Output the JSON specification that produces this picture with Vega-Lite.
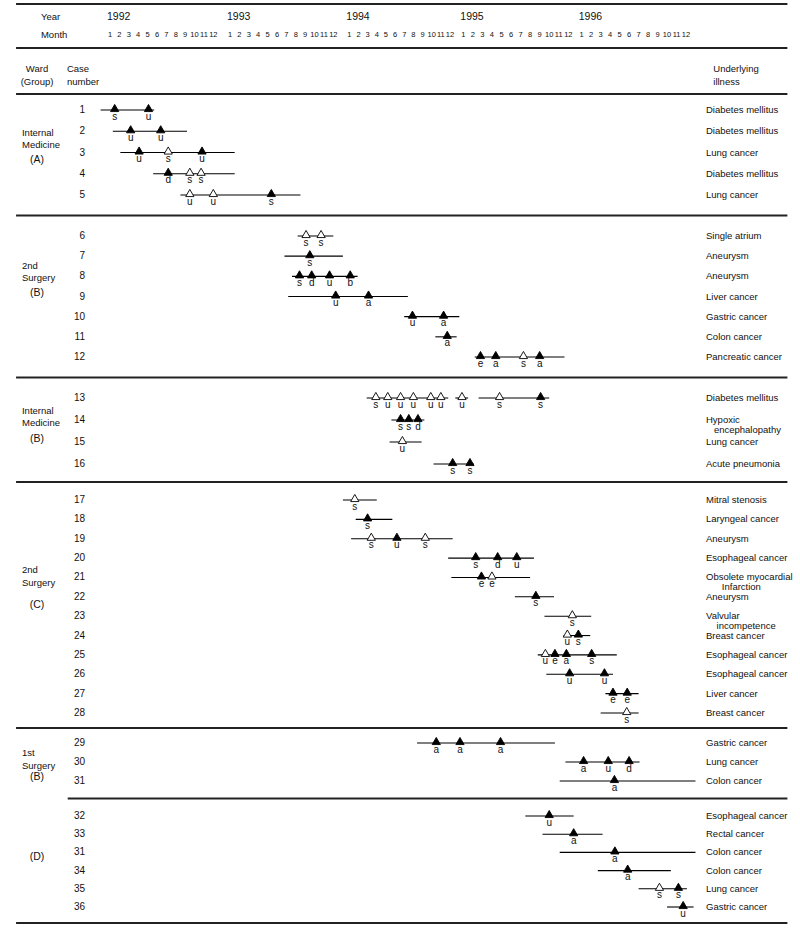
{
  "$schema": "https://vega.github.io/schema/vega-lite/v6.json",
  "width": 800,
  "height": 937,
  "padding": 0,
  "autosize": {"type": "fit", "contains": "padding"},
  "background": "white",
  "config": {"view": {"stroke": null}, "text": {"font": "Liberation Sans", "color": "#111"}},
  "datasets": {
    "cases": [
      {"row": 1, "case": "1", "illness": "Diabetes mellitus"},
      {"row": 2, "case": "2", "illness": "Diabetes mellitus"},
      {"row": 3, "case": "3", "illness": "Lung cancer"},
      {"row": 4, "case": "4", "illness": "Diabetes mellitus"},
      {"row": 5, "case": "5", "illness": "Lung cancer"},
      {"row": 6, "case": "6", "illness": "Single atrium"},
      {"row": 7, "case": "7", "illness": "Aneurysm"},
      {"row": 8, "case": "8", "illness": "Aneurysm"},
      {"row": 9, "case": "9", "illness": "Liver cancer"},
      {"row": 10, "case": "10", "illness": "Gastric cancer"},
      {"row": 11, "case": "11", "illness": "Colon cancer"},
      {"row": 12, "case": "12", "illness": "Pancreatic cancer"},
      {"row": 13, "case": "13", "illness": "Diabetes mellitus"},
      {"row": 14, "case": "14", "illness": "Hypoxic\n\u200b\u00a0\u00a0\u00a0encephalopathy"},
      {"row": 15, "case": "15", "illness": "Lung cancer"},
      {"row": 16, "case": "16", "illness": "Acute pneumonia"},
      {"row": 17, "case": "17", "illness": "Mitral stenosis"},
      {"row": 18, "case": "18", "illness": "Laryngeal cancer"},
      {"row": 19, "case": "19", "illness": "Aneurysm"},
      {"row": 20, "case": "20", "illness": "Esophageal cancer"},
      {"row": 21, "case": "21", "illness": "Obsolete myocardial\n\u200b\u00a0\u00a0\u00a0\u00a0\u00a0\u00a0Infarction"},
      {"row": 22, "case": "22", "illness": "Aneurysm"},
      {"row": 23, "case": "23", "illness": "Valvular\n\u200b\u00a0\u00a0\u00a0\u00a0incompetence"},
      {"row": 24, "case": "24", "illness": "Breast cancer"},
      {"row": 25, "case": "25", "illness": "Esophageal cancer"},
      {"row": 26, "case": "26", "illness": "Esophageal cancer"},
      {"row": 27, "case": "27", "illness": "Liver cancer"},
      {"row": 28, "case": "28", "illness": "Breast cancer"},
      {"row": 29, "case": "29", "illness": "Gastric cancer"},
      {"row": 30, "case": "30", "illness": "Lung cancer"},
      {"row": 31, "case": "31", "illness": "Colon cancer"},
      {"row": 32, "case": "32", "illness": "Esophageal cancer"},
      {"row": 33, "case": "33", "illness": "Rectal cancer"},
      {"row": 34, "case": "31", "illness": "Colon cancer"},
      {"row": 35, "case": "34", "illness": "Colon cancer"},
      {"row": 36, "case": "35", "illness": "Lung cancer"},
      {"row": 37, "case": "36", "illness": "Gastric cancer"}
    ],
    "segments": [
      {"row": 1, "start": -1.0, "end": 4.7},
      {"row": 2, "start": 0.3, "end": 8.2},
      {"row": 3, "start": 1.1, "end": 12.5},
      {"row": 4, "start": 4.6, "end": 12.5},
      {"row": 5, "start": 7.5, "end": 19.5},
      {"row": 6, "start": 19.2, "end": 23.0},
      {"row": 7, "start": 17.8, "end": 23.6},
      {"row": 8, "start": 18.6, "end": 24.9},
      {"row": 9, "start": 18.2, "end": 30.4},
      {"row": 10, "start": 30.0, "end": 35.7},
      {"row": 11, "start": 33.4, "end": 35.5},
      {"row": 12, "start": 37.2, "end": 46.6},
      {"row": 13, "start": 25.9, "end": 34.8},
      {"row": 13, "start": 35.4, "end": 36.5},
      {"row": 13, "start": 37.6, "end": 45.0},
      {"row": 14, "start": 28.6, "end": 32.2},
      {"row": 15, "start": 28.4, "end": 31.9},
      {"row": 16, "start": 33.2, "end": 37.1},
      {"row": 17, "start": 23.6, "end": 27.0},
      {"row": 18, "start": 24.7, "end": 28.7},
      {"row": 19, "start": 24.2, "end": 35.2},
      {"row": 20, "start": 34.8, "end": 43.4},
      {"row": 21, "start": 35.1, "end": 43.0},
      {"row": 22, "start": 41.4, "end": 45.5},
      {"row": 23, "start": 44.5, "end": 49.0},
      {"row": 24, "start": 46.5, "end": 48.9},
      {"row": 25, "start": 43.8, "end": 51.7},
      {"row": 26, "start": 44.7, "end": 51.3},
      {"row": 27, "start": 50.5, "end": 54.0},
      {"row": 28, "start": 50.0, "end": 54.0},
      {"row": 29, "start": 31.4, "end": 45.6},
      {"row": 30, "start": 46.7, "end": 54.1},
      {"row": 31, "start": 46.1, "end": 60.0},
      {"row": 32, "start": 42.5, "end": 47.4},
      {"row": 33, "start": 44.3, "end": 50.2},
      {"row": 34, "start": 46.1, "end": 60.0},
      {"row": 35, "start": 49.7, "end": 57.4},
      {"row": 36, "start": 54.0, "end": 59.1},
      {"row": 37, "start": 57.0, "end": 59.8}
    ],
    "events": [
      {"row": 1, "t": 0.5, "kind": "filled", "code": "s"},
      {"row": 1, "t": 4.1, "kind": "filled", "code": "u"},
      {"row": 2, "t": 2.2, "kind": "filled", "code": "u"},
      {"row": 2, "t": 5.4, "kind": "filled", "code": "u"},
      {"row": 3, "t": 3.1, "kind": "filled", "code": "u"},
      {"row": 3, "t": 6.2, "kind": "open", "code": "s"},
      {"row": 3, "t": 9.8, "kind": "filled", "code": "u"},
      {"row": 4, "t": 6.2, "kind": "filled", "code": "d"},
      {"row": 4, "t": 8.5, "kind": "open", "code": "s"},
      {"row": 4, "t": 9.7, "kind": "open", "code": "s"},
      {"row": 5, "t": 8.5, "kind": "open", "code": "u"},
      {"row": 5, "t": 11.0, "kind": "open", "code": "u"},
      {"row": 5, "t": 16.4, "kind": "filled", "code": "s"},
      {"row": 6, "t": 20.1, "kind": "open", "code": "s"},
      {"row": 6, "t": 21.7, "kind": "open", "code": "s"},
      {"row": 7, "t": 20.5, "kind": "filled", "code": "s"},
      {"row": 8, "t": 19.4, "kind": "filled", "code": "s"},
      {"row": 8, "t": 20.7, "kind": "filled", "code": "d"},
      {"row": 8, "t": 22.6, "kind": "filled", "code": "u"},
      {"row": 8, "t": 24.1, "kind": "filled", "code": "b"},
      {"row": 9, "t": 23.15, "kind": "filled", "code": "u"},
      {"row": 9, "t": 26.1, "kind": "filled", "code": "a"},
      {"row": 10, "t": 30.9, "kind": "filled", "code": "u"},
      {"row": 10, "t": 34.3, "kind": "filled", "code": "a"},
      {"row": 11, "t": 34.7, "kind": "filled", "code": "a"},
      {"row": 12, "t": 37.8, "kind": "filled", "code": "e"},
      {"row": 12, "t": 39.4, "kind": "filled", "code": "a"},
      {"row": 12, "t": 42.3, "kind": "open", "code": "s"},
      {"row": 12, "t": 44.0, "kind": "filled", "code": "a"},
      {"row": 13, "t": 26.9, "kind": "open", "code": "s"},
      {"row": 13, "t": 28.2, "kind": "open", "code": "u"},
      {"row": 13, "t": 29.6, "kind": "open", "code": "u"},
      {"row": 13, "t": 31.0, "kind": "open", "code": "u"},
      {"row": 13, "t": 32.9, "kind": "open", "code": "u"},
      {"row": 13, "t": 34.0, "kind": "open", "code": "u"},
      {"row": 13, "t": 35.9, "kind": "open", "code": "u"},
      {"row": 13, "t": 39.8, "kind": "open", "code": "s"},
      {"row": 13, "t": 44.1, "kind": "filled", "code": "s"},
      {"row": 14, "t": 29.6, "kind": "filled", "code": "s"},
      {"row": 14, "t": 30.5, "kind": "filled", "code": "s"},
      {"row": 14, "t": 31.5, "kind": "filled", "code": "d"},
      {"row": 15, "t": 29.8, "kind": "open", "code": "u"},
      {"row": 16, "t": 35.2, "kind": "filled", "code": "s"},
      {"row": 16, "t": 36.7, "kind": "filled", "code": "s"},
      {"row": 17, "t": 24.6, "kind": "open", "code": "s"},
      {"row": 18, "t": 26.0, "kind": "filled", "code": "s"},
      {"row": 19, "t": 26.4, "kind": "open", "code": "s"},
      {"row": 19, "t": 29.2, "kind": "filled", "code": "u"},
      {"row": 19, "t": 32.3, "kind": "open", "code": "s"},
      {"row": 20, "t": 37.3, "kind": "filled", "code": "s"},
      {"row": 20, "t": 39.6, "kind": "filled", "code": "d"},
      {"row": 20, "t": 41.6, "kind": "filled", "code": "u"},
      {"row": 21, "t": 37.9, "kind": "filled", "code": "e"},
      {"row": 21, "t": 39.0, "kind": "open", "code": "e"},
      {"row": 22, "t": 43.6, "kind": "filled", "code": "s"},
      {"row": 23, "t": 47.3, "kind": "open", "code": "s"},
      {"row": 24, "t": 46.9, "kind": "open", "code": "u"},
      {"row": 24, "t": 47.75, "kind": "filled", "code": "s"},
      {"row": 25, "t": 44.6, "kind": "open", "code": "u"},
      {"row": 25, "t": 45.6, "kind": "filled", "code": "e"},
      {"row": 25, "t": 46.8, "kind": "filled", "code": "a"},
      {"row": 25, "t": 49.05, "kind": "filled", "code": "s"},
      {"row": 26, "t": 47.1, "kind": "filled", "code": "u"},
      {"row": 26, "t": 50.4, "kind": "filled", "code": "u"},
      {"row": 27, "t": 51.3, "kind": "filled", "code": "e"},
      {"row": 27, "t": 52.8, "kind": "filled", "code": "e"},
      {"row": 28, "t": 52.75, "kind": "open", "code": "s"},
      {"row": 29, "t": 33.5, "kind": "filled", "code": "a"},
      {"row": 29, "t": 35.75, "kind": "filled", "code": "a"},
      {"row": 29, "t": 39.9, "kind": "filled", "code": "a"},
      {"row": 30, "t": 48.2, "kind": "filled", "code": "a"},
      {"row": 30, "t": 50.8, "kind": "filled", "code": "u"},
      {"row": 30, "t": 53.0, "kind": "filled", "code": "d"},
      {"row": 31, "t": 51.45, "kind": "filled", "code": "a"},
      {"row": 32, "t": 45.0, "kind": "filled", "code": "u"},
      {"row": 33, "t": 47.4, "kind": "filled", "code": "a"},
      {"row": 34, "t": 51.5, "kind": "filled", "code": "a"},
      {"row": 35, "t": 52.85, "kind": "filled", "code": "a"},
      {"row": 36, "t": 56.2, "kind": "open", "code": "s"},
      {"row": 36, "t": 58.2, "kind": "filled", "code": "s"},
      {"row": 37, "t": 58.7, "kind": "filled", "code": "u"}
    ],
    "wards": [
      {"name": "Internal\nMedicine", "name_row": 2.08, "grp": "(A)", "grp_row": 3.35},
      {"name": "2nd\nSurgery", "name_row": 7.47, "grp": "(B)", "grp_row": 8.84},
      {"name": "Internal\nMedicine", "name_row": 13.57, "grp": "(B)", "grp_row": 14.88},
      {"name": "2nd\nSurgery", "name_row": 20.62, "grp": "(C)", "grp_row": 22.41},
      {"name": "1st\nSurgery", "name_row": 29.53, "grp": "(B)", "grp_row": 30.79},
      {"name": "", "name_row": 34.25, "grp": "(D)", "grp_row": 34.25}
    ],
    "dividers": [{"row": -4}, {"row": -1.5}, {"row": 0}, {"row": 5.5}, {"row": 12.5}, {"row": 16.5}, {"row": 28.5}, {"row": 38}],
    "subdividers": [{"row": 31.5}],
    "years": [
      {"year": "1992", "t": 0}, {"year": "1993", "t": 12}, {"year": "1994", "t": 24}, {"year": "1995", "t": 36}, {"year": "1996", "t": 48}
    ],
    "months": [
      {"t": 0, "m": "1"}, {"t": 1, "m": "2"}, {"t": 2, "m": "3"}, {"t": 3, "m": "4"}, {"t": 4, "m": "5"}, {"t": 5, "m": "6"},
      {"t": 6, "m": "7"}, {"t": 7, "m": "8"}, {"t": 8, "m": "9"}, {"t": 9, "m": "10"}, {"t": 10, "m": "11"}, {"t": 11, "m": "12"},
      {"t": 12, "m": "1"}, {"t": 13, "m": "2"}, {"t": 14, "m": "3"}, {"t": 15, "m": "4"}, {"t": 16, "m": "5"}, {"t": 17, "m": "6"},
      {"t": 18, "m": "7"}, {"t": 19, "m": "8"}, {"t": 20, "m": "9"}, {"t": 21, "m": "10"}, {"t": 22, "m": "11"}, {"t": 23, "m": "12"},
      {"t": 24, "m": "1"}, {"t": 25, "m": "2"}, {"t": 26, "m": "3"}, {"t": 27, "m": "4"}, {"t": 28, "m": "5"}, {"t": 29, "m": "6"},
      {"t": 30, "m": "7"}, {"t": 31, "m": "8"}, {"t": 32, "m": "9"}, {"t": 33, "m": "10"}, {"t": 34, "m": "11"}, {"t": 35, "m": "12"},
      {"t": 36, "m": "1"}, {"t": 37, "m": "2"}, {"t": 38, "m": "3"}, {"t": 39, "m": "4"}, {"t": 40, "m": "5"}, {"t": 41, "m": "6"},
      {"t": 42, "m": "7"}, {"t": 43, "m": "8"}, {"t": 44, "m": "9"}, {"t": 45, "m": "10"}, {"t": 46, "m": "11"}, {"t": 47, "m": "12"},
      {"t": 48, "m": "1"}, {"t": 49, "m": "2"}, {"t": 50, "m": "3"}, {"t": 51, "m": "4"}, {"t": 52, "m": "5"}, {"t": 53, "m": "6"},
      {"t": 54, "m": "7"}, {"t": 55, "m": "8"}, {"t": 56, "m": "9"}, {"t": 57, "m": "10"}, {"t": 58, "m": "11"}, {"t": 59, "m": "12"}
    ],
    "rowHeads": [{"label": "Year", "row": -3}, {"label": "Month", "row": -2}],
    "colHeadWard": [{"label": "Ward\n(Group)"}],
    "colHeadCase": [{"label": "Case\nnumber"}],
    "colHeadIll": [{"label": "Underlying\nillness"}]
  },
  "layer": [
    {
      "data": {"name": "dividers"},
      "mark": {"type": "rule", "color": "#222", "strokeWidth": 1.8},
      "encoding": {
        "y": {"field": "row", "type": "quantitative", "axis": null,
              "scale": {"domain": [-4.5, -4, -3, -2, -1.5, -1, 0, 1, 5, 6, 12, 13, 16, 17, 28, 29, 31, 32, 37, 38, 39], "range": [0, 4, 17, 35, 48, 68.5, 94, 110, 195, 236, 357, 398, 464, 500, 713, 743, 781, 816, 907, 923, 937], "zero": false, "nice": false}},
        "x": {"datum": -10.0, "type": "quantitative", "axis": null,
              "scale": {"domain": [-11.71, 0, 11, 12, 23, 24, 35, 36, 47, 48, 59, 71.03], "range": [0, 110, 213.3, 230, 333.3, 349.3, 450, 463.3, 568.3, 581.7, 686, 800], "zero": false, "nice": false}},
        "x2": {"datum": 69.7}
      }
    },
    {
      "data": {"name": "subdividers"},
      "mark": {"type": "rule", "color": "#222", "strokeWidth": 1.8},
      "encoding": {
        "y": {"field": "row", "type": "quantitative", "axis": null,
              "scale": {"domain": [-4.5, -4, -3, -2, -1.5, -1, 0, 1, 5, 6, 12, 13, 16, 17, 28, 29, 31, 32, 37, 38, 39], "range": [0, 4, 17, 35, 48, 68.5, 94, 110, 195, 236, 357, 398, 464, 500, 713, 743, 781, 816, 907, 923, 937], "zero": false, "nice": false}},
        "x": {"datum": -4.5, "type": "quantitative", "axis": null,
              "scale": {"domain": [-11.71, 0, 11, 12, 23, 24, 35, 36, 47, 48, 59, 71.03], "range": [0, 110, 213.3, 230, 333.3, 349.3, 450, 463.3, 568.3, 581.7, 686, 800], "zero": false, "nice": false}},
        "x2": {"datum": 69.7}
      }
    },
    {
      "data": {"name": "segments"},
      "mark": {"type": "rule", "color": "#000", "strokeWidth": 1.1},
      "encoding": {
        "y": {"field": "row", "type": "quantitative", "axis": null,
              "scale": {"domain": [-4.5, -4, -3, -2, -1.5, -1, 0, 1, 5, 6, 12, 13, 16, 17, 28, 29, 31, 32, 37, 38, 39], "range": [0, 4, 17, 35, 48, 68.5, 94, 110, 195, 236, 357, 398, 464, 500, 713, 743, 781, 816, 907, 923, 937], "zero": false, "nice": false}},
        "x": {"field": "start", "type": "quantitative", "axis": null,
              "scale": {"domain": [-11.71, 0, 11, 12, 23, 24, 35, 36, 47, 48, 59, 71.03], "range": [0, 110, 213.3, 230, 333.3, 349.3, 450, 463.3, 568.3, 581.7, 686, 800], "zero": false, "nice": false}},
        "x2": {"field": "end"}
      }
    },
    {
      "data": {"name": "events"},
      "mark": {"type": "point", "shape": "triangle-up", "size": 68, "filled": true, "stroke": "#000", "strokeWidth": 0.9, "opacity": 1, "yOffset": -2},
      "encoding": {
        "y": {"field": "row", "type": "quantitative", "axis": null,
              "scale": {"domain": [-4.5, -4, -3, -2, -1.5, -1, 0, 1, 5, 6, 12, 13, 16, 17, 28, 29, 31, 32, 37, 38, 39], "range": [0, 4, 17, 35, 48, 68.5, 94, 110, 195, 236, 357, 398, 464, 500, 713, 743, 781, 816, 907, 923, 937], "zero": false, "nice": false}},
        "x": {"field": "t", "type": "quantitative", "axis": null,
              "scale": {"domain": [-11.71, 0, 11, 12, 23, 24, 35, 36, 47, 48, 59, 71.03], "range": [0, 110, 213.3, 230, 333.3, 349.3, 450, 463.3, 568.3, 581.7, 686, 800], "zero": false, "nice": false}},
        "fill": {"field": "kind", "type": "nominal", "legend": null, "scale": {"domain": ["filled", "open"], "range": ["#000000", "#ffffff"]}}
      }
    },
    {
      "data": {"name": "events"},
      "mark": {"type": "text", "fontSize": 10, "align": "center", "baseline": "alphabetic", "dy": 9.5},
      "encoding": {
        "y": {"field": "row", "type": "quantitative", "axis": null,
              "scale": {"domain": [-4.5, -4, -3, -2, -1.5, -1, 0, 1, 5, 6, 12, 13, 16, 17, 28, 29, 31, 32, 37, 38, 39], "range": [0, 4, 17, 35, 48, 68.5, 94, 110, 195, 236, 357, 398, 464, 500, 713, 743, 781, 816, 907, 923, 937], "zero": false, "nice": false}},
        "x": {"field": "t", "type": "quantitative", "axis": null,
              "scale": {"domain": [-11.71, 0, 11, 12, 23, 24, 35, 36, 47, 48, 59, 71.03], "range": [0, 110, 213.3, 230, 333.3, 349.3, 450, 463.3, 568.3, 581.7, 686, 800], "zero": false, "nice": false}},
        "text": {"field": "code"}
      }
    },
    {
      "data": {"name": "cases"},
      "mark": {"type": "text", "fontSize": 10, "align": "right", "baseline": "middle"},
      "encoding": {
        "y": {"field": "row", "type": "quantitative", "axis": null,
              "scale": {"domain": [-4.5, -4, -3, -2, -1.5, -1, 0, 1, 5, 6, 12, 13, 16, 17, 28, 29, 31, 32, 37, 38, 39], "range": [0, 4, 17, 35, 48, 68.5, 94, 110, 195, 236, 357, 398, 464, 500, 713, 743, 781, 816, 907, 923, 937], "zero": false, "nice": false}},
        "x": {"datum": -2.66, "type": "quantitative", "axis": null,
              "scale": {"domain": [-11.71, 0, 11, 12, 23, 24, 35, 36, 47, 48, 59, 71.03], "range": [0, 110, 213.3, 230, 333.3, 349.3, 450, 463.3, 568.3, 581.7, 686, 800], "zero": false, "nice": false}},
        "text": {"field": "case"}
      }
    },
    {
      "data": {"name": "cases"},
      "mark": {"type": "text", "fontSize": 9.5, "align": "left", "baseline": "middle", "lineBreak": "\n", "lineHeight": 9.5},
      "encoding": {
        "y": {"field": "row", "type": "quantitative", "axis": null,
              "scale": {"domain": [-4.5, -4, -3, -2, -1.5, -1, 0, 1, 5, 6, 12, 13, 16, 17, 28, 29, 31, 32, 37, 38, 39], "range": [0, 4, 17, 35, 48, 68.5, 94, 110, 195, 236, 357, 398, 464, 500, 713, 743, 781, 816, 907, 923, 937], "zero": false, "nice": false}},
        "x": {"datum": 61.11, "type": "quantitative", "axis": null,
              "scale": {"domain": [-11.71, 0, 11, 12, 23, 24, 35, 36, 47, 48, 59, 71.03], "range": [0, 110, 213.3, 230, 333.3, 349.3, 450, 463.3, 568.3, 581.7, 686, 800], "zero": false, "nice": false}},
        "text": {"field": "illness"}
      }
    },
    {
      "data": {"name": "wards"},
      "mark": {"type": "text", "fontSize": 9.5, "align": "left", "baseline": "middle", "lineBreak": "\n", "lineHeight": 12.5},
      "encoding": {
        "y": {"field": "name_row", "type": "quantitative", "axis": null,
              "scale": {"domain": [-4.5, -4, -3, -2, -1.5, -1, 0, 1, 5, 6, 12, 13, 16, 17, 28, 29, 31, 32, 37, 38, 39], "range": [0, 4, 17, 35, 48, 68.5, 94, 110, 195, 236, 357, 398, 464, 500, 713, 743, 781, 816, 907, 923, 937], "zero": false, "nice": false}},
        "x": {"datum": -9.37, "type": "quantitative", "axis": null,
              "scale": {"domain": [-11.71, 0, 11, 12, 23, 24, 35, 36, 47, 48, 59, 71.03], "range": [0, 110, 213.3, 230, 333.3, 349.3, 450, 463.3, 568.3, 581.7, 686, 800], "zero": false, "nice": false}},
        "text": {"field": "name"}
      }
    },
    {
      "data": {"name": "wards"},
      "mark": {"type": "text", "fontSize": 10.5, "align": "center", "baseline": "middle"},
      "encoding": {
        "y": {"field": "grp_row", "type": "quantitative", "axis": null,
              "scale": {"domain": [-4.5, -4, -3, -2, -1.5, -1, 0, 1, 5, 6, 12, 13, 16, 17, 28, 29, 31, 32, 37, 38, 39], "range": [0, 4, 17, 35, 48, 68.5, 94, 110, 195, 236, 357, 398, 464, 500, 713, 743, 781, 816, 907, 923, 937], "zero": false, "nice": false}},
        "x": {"datum": -7.77, "type": "quantitative", "axis": null,
              "scale": {"domain": [-11.71, 0, 11, 12, 23, 24, 35, 36, 47, 48, 59, 71.03], "range": [0, 110, 213.3, 230, 333.3, 349.3, 450, 463.3, 568.3, 581.7, 686, 800], "zero": false, "nice": false}},
        "text": {"field": "grp"}
      }
    },
    {
      "data": {"name": "years"},
      "mark": {"type": "text", "fontSize": 10.5, "align": "left", "baseline": "middle", "dx": -3},
      "encoding": {
        "y": {"datum": -3, "type": "quantitative", "axis": null,
              "scale": {"domain": [-4.5, -4, -3, -2, -1.5, -1, 0, 1, 5, 6, 12, 13, 16, 17, 28, 29, 31, 32, 37, 38, 39], "range": [0, 4, 17, 35, 48, 68.5, 94, 110, 195, 236, 357, 398, 464, 500, 713, 743, 781, 816, 907, 923, 937], "zero": false, "nice": false}},
        "x": {"field": "t", "type": "quantitative", "axis": null,
              "scale": {"domain": [-11.71, 0, 11, 12, 23, 24, 35, 36, 47, 48, 59, 71.03], "range": [0, 110, 213.3, 230, 333.3, 349.3, 450, 463.3, 568.3, 581.7, 686, 800], "zero": false, "nice": false}},
        "text": {"field": "year"}
      }
    },
    {
      "data": {"name": "months"},
      "mark": {"type": "text", "fontSize": 7.5, "align": "center", "baseline": "middle"},
      "encoding": {
        "y": {"datum": -2, "type": "quantitative", "axis": null,
              "scale": {"domain": [-4.5, -4, -3, -2, -1.5, -1, 0, 1, 5, 6, 12, 13, 16, 17, 28, 29, 31, 32, 37, 38, 39], "range": [0, 4, 17, 35, 48, 68.5, 94, 110, 195, 236, 357, 398, 464, 500, 713, 743, 781, 816, 907, 923, 937], "zero": false, "nice": false}},
        "x": {"field": "t", "type": "quantitative", "axis": null,
              "scale": {"domain": [-11.71, 0, 11, 12, 23, 24, 35, 36, 47, 48, 59, 71.03], "range": [0, 110, 213.3, 230, 333.3, 349.3, 450, 463.3, 568.3, 581.7, 686, 800], "zero": false, "nice": false}},
        "text": {"field": "m"}
      }
    },
    {
      "data": {"name": "rowHeads"},
      "mark": {"type": "text", "fontSize": 9.5, "align": "left", "baseline": "middle"},
      "encoding": {
        "y": {"field": "row", "type": "quantitative", "axis": null,
              "scale": {"domain": [-4.5, -4, -3, -2, -1.5, -1, 0, 1, 5, 6, 12, 13, 16, 17, 28, 29, 31, 32, 37, 38, 39], "range": [0, 4, 17, 35, 48, 68.5, 94, 110, 195, 236, 357, 398, 464, 500, 713, 743, 781, 816, 907, 923, 937], "zero": false, "nice": false}},
        "x": {"datum": -7.35, "type": "quantitative", "axis": null,
              "scale": {"domain": [-11.71, 0, 11, 12, 23, 24, 35, 36, 47, 48, 59, 71.03], "range": [0, 110, 213.3, 230, 333.3, 349.3, 450, 463.3, 568.3, 581.7, 686, 800], "zero": false, "nice": false}},
        "text": {"field": "label"}
      }
    },
    {
      "data": {"name": "colHeadWard"},
      "mark": {"type": "text", "fontSize": 9.5, "align": "center", "baseline": "middle", "lineBreak": "\n", "lineHeight": 13},
      "encoding": {
        "y": {"datum": -1, "type": "quantitative", "axis": null,
              "scale": {"domain": [-4.5, -4, -3, -2, -1.5, -1, 0, 1, 5, 6, 12, 13, 16, 17, 28, 29, 31, 32, 37, 38, 39], "range": [0, 4, 17, 35, 48, 68.5, 94, 110, 195, 236, 357, 398, 464, 500, 713, 743, 781, 816, 907, 923, 937], "zero": false, "nice": false}},
        "x": {"datum": -7.77, "type": "quantitative", "axis": null,
              "scale": {"domain": [-11.71, 0, 11, 12, 23, 24, 35, 36, 47, 48, 59, 71.03], "range": [0, 110, 213.3, 230, 333.3, 349.3, 450, 463.3, 568.3, 581.7, 686, 800], "zero": false, "nice": false}},
        "text": {"field": "label"}
      }
    },
    {
      "data": {"name": "colHeadCase"},
      "mark": {"type": "text", "fontSize": 9.5, "align": "left", "baseline": "middle", "lineBreak": "\n", "lineHeight": 13},
      "encoding": {
        "y": {"datum": -1, "type": "quantitative", "axis": null,
              "scale": {"domain": [-4.5, -4, -3, -2, -1.5, -1, 0, 1, 5, 6, 12, 13, 16, 17, 28, 29, 31, 32, 37, 38, 39], "range": [0, 4, 17, 35, 48, 68.5, 94, 110, 195, 236, 357, 398, 464, 500, 713, 743, 781, 816, 907, 923, 937], "zero": false, "nice": false}},
        "x": {"datum": -4.58, "type": "quantitative", "axis": null,
              "scale": {"domain": [-11.71, 0, 11, 12, 23, 24, 35, 36, 47, 48, 59, 71.03], "range": [0, 110, 213.3, 230, 333.3, 349.3, 450, 463.3, 568.3, 581.7, 686, 800], "zero": false, "nice": false}},
        "text": {"field": "label"}
      }
    },
    {
      "data": {"name": "colHeadIll"},
      "mark": {"type": "text", "fontSize": 9.5, "align": "left", "baseline": "middle", "lineBreak": "\n", "lineHeight": 13},
      "encoding": {
        "y": {"datum": -1, "type": "quantitative", "axis": null,
              "scale": {"domain": [-4.5, -4, -3, -2, -1.5, -1, 0, 1, 5, 6, 12, 13, 16, 17, 28, 29, 31, 32, 37, 38, 39], "range": [0, 4, 17, 35, 48, 68.5, 94, 110, 195, 236, 357, 398, 464, 500, 713, 743, 781, 816, 907, 923, 937], "zero": false, "nice": false}},
        "x": {"datum": 61.88, "type": "quantitative", "axis": null,
              "scale": {"domain": [-11.71, 0, 11, 12, 23, 24, 35, 36, 47, 48, 59, 71.03], "range": [0, 110, 213.3, 230, 333.3, 349.3, 450, 463.3, 568.3, 581.7, 686, 800], "zero": false, "nice": false}},
        "text": {"field": "label"}
      }
    }
  ]
}
